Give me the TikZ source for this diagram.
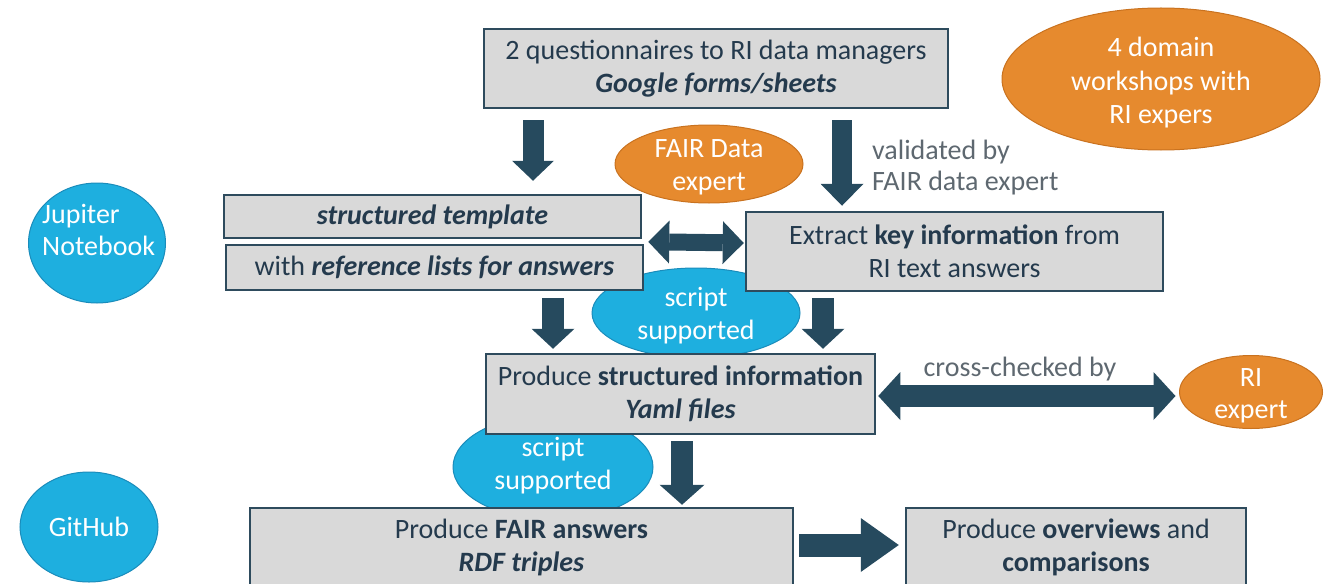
\documentclass[tikz,border=0pt]{standalone}
\usepackage{fontspec}
\setmainfont{Carlito}
\usetikzlibrary{arrows.meta,shapes.geometric,calc}
\definecolor{boxfill}{HTML}{D9D9D9}
\definecolor{boxline}{HTML}{2E4B5D}
\definecolor{textdark}{HTML}{243A4D}
\definecolor{arrowc}{HTML}{264A5E}
\definecolor{graytext}{HTML}{5E6870}
\definecolor{orangefill}{HTML}{E68A2E}
\definecolor{orangeline}{HTML}{C9721F}
\definecolor{bluefill}{HTML}{1EAFDF}
\definecolor{blueline}{HTML}{1A8CBB}
\begin{document}
\begin{tikzpicture}[x=1pt,y=-1pt,
  stepbox/.style={draw=boxline, line width=2.5pt, fill=boxfill, text=textdark,
    inner sep=0pt, align=center, font=\fontsize{28}{33}\selectfont},
  orangeell/.style={ellipse, draw=orangeline, line width=1pt, fill=orangefill, inner sep=0pt},
  blueell/.style={ellipse, draw=blueline, line width=1pt, fill=bluefill, inner sep=0pt},
  elltext/.style={text=white, inner sep=0pt, align=center, font=\fontsize{28}{33}\selectfont},
  note/.style={text=graytext, inner sep=0pt, font=\fontsize{28}{31}\selectfont},
  blockarr/.style={draw=arrowc, line width=#1}
]
\useasboundingbox (0,0) rectangle (1337,583);

% ellipses behind boxes
\node[blueell, minimum width=208pt, minimum height=90pt] (scr1) at (696,313) {};
\node[elltext] (scr1t) at ([yshift=-3pt]scr1) {script\\supported};
\node[blueell, minimum width=200pt, minimum height=105pt] (scr2) at (553,467) {};
\node[elltext] (scr2t) at ([yshift=-2pt]553,464) {script\\supported};
\node[orangeell, minimum width=188pt, minimum height=78pt] (fairexp) at (709,164) {};
\node[elltext] (fairexpt) at ([yshift=-3pt]fairexp) {FAIR Data\\expert};
\node[orangeell, minimum width=318pt, minimum height=142pt] (dom) at (1161,79) {};
\node[elltext, font=\fontsize{28}{33.5}\selectfont] (domt) at ([yshift=-4pt]dom) {4 domain\\workshops with\\RI expers};
\node[orangeell, minimum width=143pt, minimum height=73pt] (ri) at (1251,392) {};
\node[elltext, font=\fontsize{28}{32}\selectfont] (rit) at ([yshift=-4pt]ri) {RI\\expert};
\node[blueell, minimum width=137pt, minimum height=120pt] (jup) at (97,243) {};
\node[elltext, anchor=west, align=left, font=\fontsize{28}{32}\selectfont] (jupt) at (42,229.5) {Jupiter\\Notebook};
\node[blueell, minimum width=138pt, minimum height=110pt] (gh) at (89,527) {};
\node[elltext] (ght) at (gh) {GitHub};

% boxes
\node[stepbox, minimum width=464pt, minimum height=79pt] (box1) at (716,68.5)
  {\raisebox{-2pt}{2 questionnaires to RI data managers}\\\raisebox{-2pt}{\textbf{\textit{Google forms/sheets}}}};
\node[stepbox, minimum width=417pt, minimum height=43pt] (tmpl) at (432.5,216.5)
  {\textbf{\textit{structured template}}};
\node[stepbox, minimum width=417pt, minimum height=45pt] (refl) at (434.5,267.5)
  {with \textbf{\textit{reference lists for answers}}};
\node[stepbox, minimum width=417pt, minimum height=79pt] (extract) at (954.5,251.5)
  {Extract \textbf{key information} from\\RI text answers};
\node[stepbox, minimum width=389pt, minimum height=80pt] (struct) at (680.5,394)
  {Produce \textbf{structured information}\\\textbf{\textit{Yaml files}}};
\node[stepbox, minimum width=543pt, minimum height=78pt] (fair) at (521.5,547)
  {Produce \textbf{FAIR answers}\\\textbf{\textit{RDF triples}}};
\node[stepbox, minimum width=340pt, minimum height=78pt] (over) at (1076,547)
  {Produce \textbf{overviews} and\\\textbf{comparisons}};

% notes
\node[note, anchor=west, align=left] (valid) at (872,168) {validated by\\FAIR data expert};
\node[note] (cross) at (1020,369) {cross-checked by};

% block arrows
\draw[blockarr=21pt, -{Triangle[length=20pt,width=42pt,line width=0pt]}]
  ([xshift=-183pt,yshift=-11pt]box1.south) -- ([xshift=100.5pt,yshift=13pt]tmpl.north);
\draw[blockarr=20pt, -{Triangle[length=22pt,width=43pt,line width=0pt]}]
  ([xshift=126pt,yshift=-11pt]box1.south) -- ([xshift=-112.5pt,yshift=5pt]extract.north);
\draw[blockarr=22pt, -{Triangle[length=20pt,width=43pt,line width=0pt]}]
  ([xshift=118.5pt,yshift=-7pt]refl.south) -- ([xshift=-127.5pt,yshift=4pt]struct.north);
\draw[blockarr=22pt, -{Triangle[length=20pt,width=43pt,line width=0pt]}]
  ([xshift=-131.5pt,yshift=-6pt]extract.south) -- ([xshift=142.5pt,yshift=4pt]struct.north);
\draw[blockarr=22pt, -{Triangle[length=20pt,width=45pt,line width=0pt]}]
  ([xshift=1.5pt,yshift=-6pt]struct.south) -- ([xshift=160.5pt,yshift=2pt]fair.north);
\draw[blockarr=17pt, {Triangle[length=21pt,width=43pt,line width=0pt]}-{Triangle[length=21pt,width=43pt,line width=0pt]}]
  ([xshift=4pt,yshift=2pt]refl.north east) -- ([xshift=-1pt,yshift=8.5pt]extract.west);
\draw[blockarr=22pt, {Triangle[length=22pt,width=48pt,line width=0pt]}-{Triangle[length=22pt,width=48pt,line width=0pt]}]
  ([xshift=2pt,yshift=-2pt]struct.east) -- ([xshift=-3.5pt,yshift=-4pt]ri.west);
\draw[blockarr=23pt, -{Triangle[length=38pt,width=54pt,line width=0pt]}]
  ([xshift=5pt,yshift=2pt]fair.east) -- ([xshift=-6pt,yshift=2pt]over.west);
\end{tikzpicture}
\end{document}
